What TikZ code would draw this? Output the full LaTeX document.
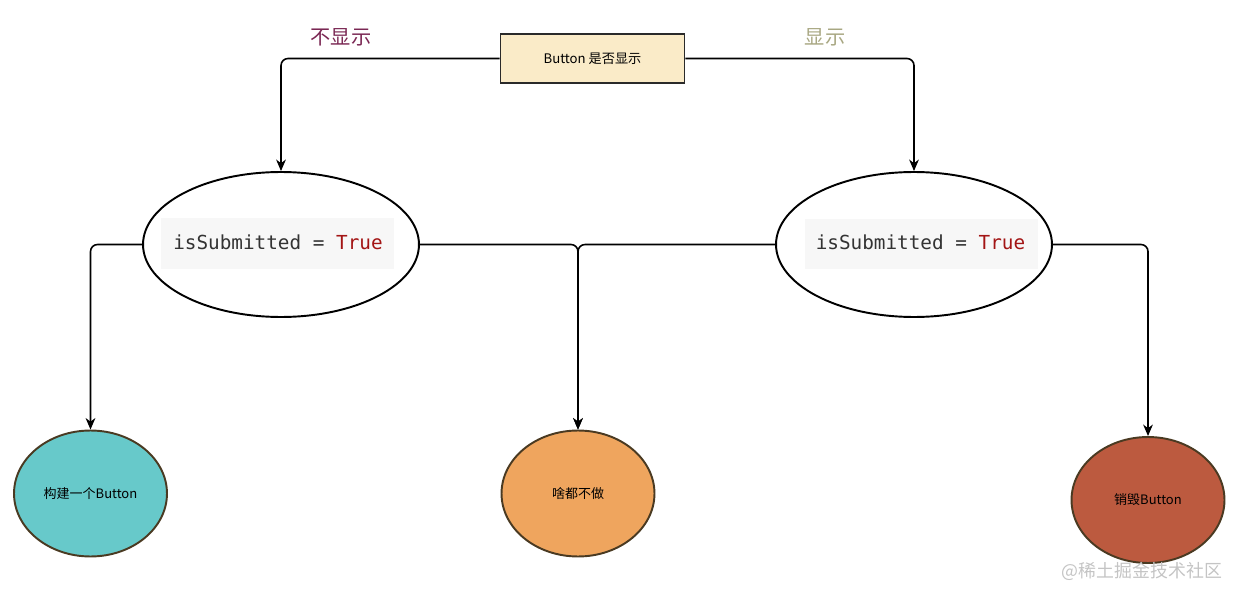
\documentclass[tikz,border=0pt]{standalone}
\usepackage{fontspec}
\newfontfamily\cjk{Noto Sans CJK SC}
\newfontfamily\codefont{DejaVu Sans Mono}
\usetikzlibrary{shapes.geometric,arrows.meta}
\definecolor{boxfill}{HTML}{FAEBC8}
\definecolor{boxline}{HTML}{2A2A2A}
\definecolor{circline}{HTML}{4A3A22}
\definecolor{cyanfill}{HTML}{67C9CA}
\definecolor{orangefill}{HTML}{EFA55E}
\definecolor{redfill}{HTML}{BC5A3F}
\definecolor{nolabel}{HTML}{7A2753}
\definecolor{yeslabel}{HTML}{A8A782}
\definecolor{codebgc}{HTML}{F7F7F7}
\definecolor{codetext}{HTML}{333333}
\definecolor{truecol}{HTML}{A31515}
\definecolor{wmark}{HTML}{C4C4C4}
\begin{document}
\begin{tikzpicture}[x=0.02cm,y=-0.02cm,
  decision/.style={draw=boxline,line width=1.1pt,fill=boxfill,minimum width=3.68cm,minimum height=0.97cm,inner sep=0pt,font=\cjk\fontsize{7.5}{9}\selectfont},
  cond/.style={ellipse,draw=black,line width=1.1pt,fill=white,minimum width=5.52cm,minimum height=2.9cm,inner sep=0pt},
  codebg/.style={fill=codebgc,minimum width=4.66cm,minimum height=1.02cm,inner sep=0pt},
  codetxt/.style={inner sep=0pt,text=codetext,font=\codefont\fontsize{11}{13}\selectfont},
  result/.style={ellipse,draw=circline,line width=1.1pt,minimum width=3.06cm,minimum height=2.52cm,inner sep=0pt,font=\cjk\fontsize{7.4}{9}\selectfont},
  branch/.style={font=\cjk\fontsize{11.5}{13}\selectfont,inner sep=0pt},
  conn/.style={draw=black,line width=0.9pt,rounded corners=4pt,-{Stealth[length=6.5pt,width=5.5pt,inset=2pt]}}
]
\useasboundingbox (0,0) rectangle (1241,598);

% top decision box
\node[decision] (top) at (592.5,58.5) {Button 是否显示};
\node[branch,text=nolabel] (lno) at (341,37) {不显示};
\node[branch,text=yeslabel] (lyes) at (825,37) {显示};

% condition ellipses
\node[cond] (e1) at (281,244.5) {};
\node[codebg] (b1) at (277.5,243.5) {};
\node[codetxt] (t1) at (278,242) {isSubmitted = \textcolor{truecol}{True}};

\node[cond] (e2) at (914,244.5) {};
\node[codebg] (b2) at (921.5,244) {};
\node[codetxt] (t2) at (920.5,242) {isSubmitted = \textcolor{truecol}{True}};

% results
\node[result,fill=cyanfill] (r1) at (90.5,493.5) {构建一个Button};
\node[result,fill=orangefill] (r2) at (578,493.5) {啥都不做};
\node[result,fill=redfill] (r3) at (1148,500) {销毁Button};

% connectors
\draw[conn] (top.west) -| (e1.north);
\draw[conn] (top.east) -| (e2.north);
\draw[conn] (e1.west) -| (r1.north);
\draw[conn] (e1.east) -| (r2.north);
\draw[conn] (e2.west) -| (r2.north);
\draw[conn] (e2.east) -| (r3.north);

% watermark
\node[font=\cjk\fontsize{10.2}{12}\selectfont,text=wmark,inner sep=0pt] (wm) at (1142,571) {@稀土掘金技术社区};
\end{tikzpicture}
\end{document}
